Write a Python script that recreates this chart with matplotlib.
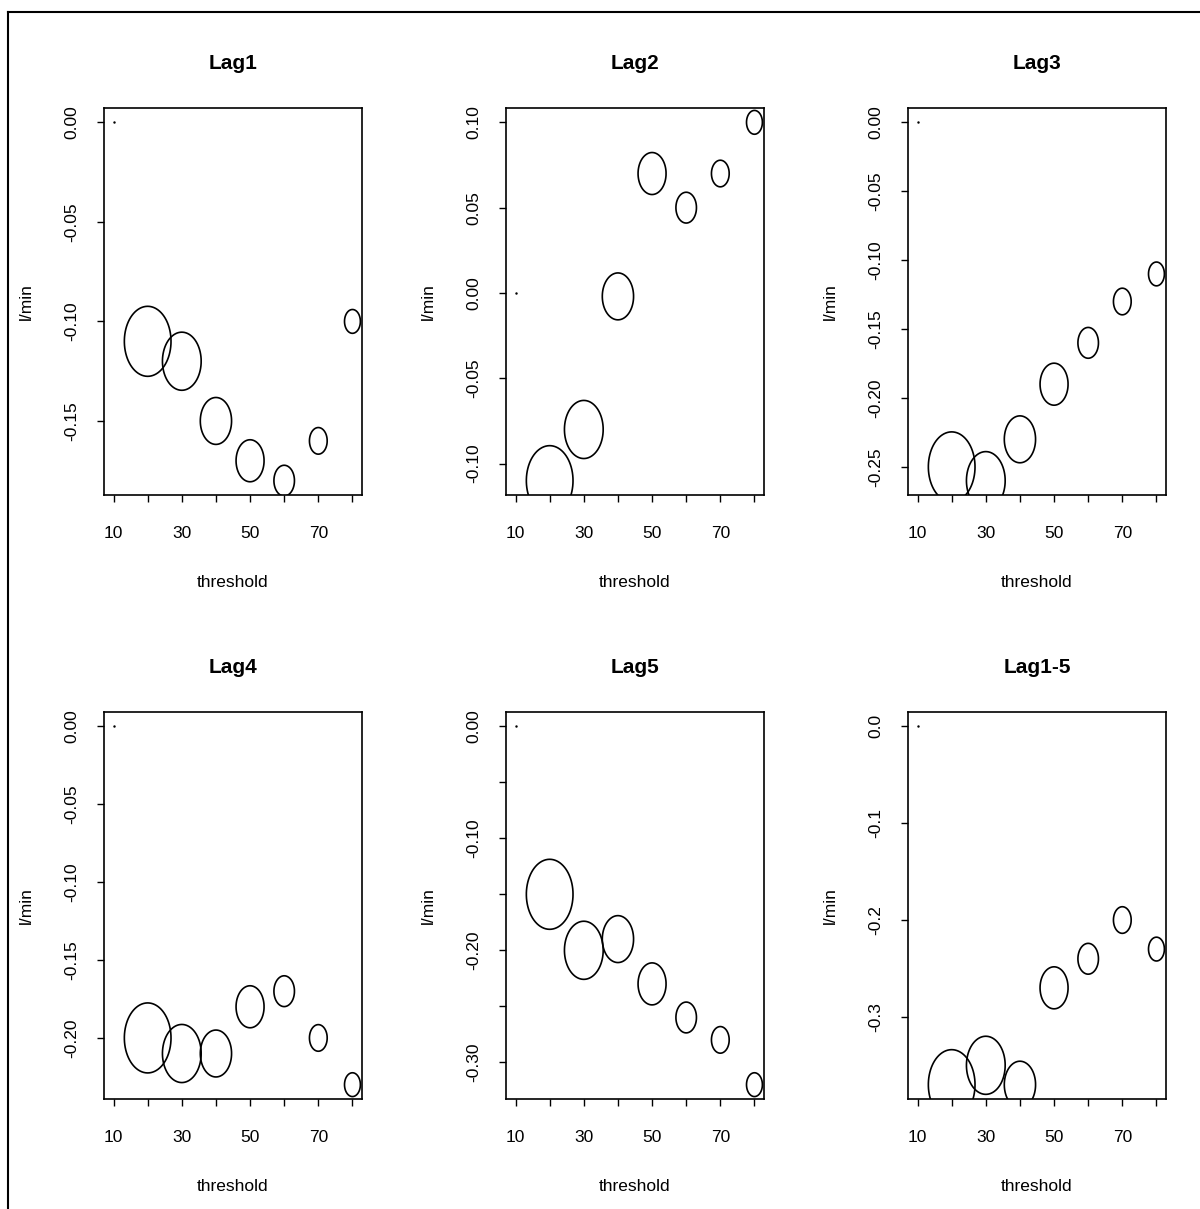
import numpy as np
import matplotlib
matplotlib.use("Agg")
import matplotlib.pyplot as plt
from matplotlib.path import Path
from matplotlib.lines import Line2D

plt.rcParams['font.family'] = ['Liberation Sans', 'DejaVu Sans']

# data
threshold = [10, 20, 30, 40, 50, 60, 70, 80]
weight = [0.0, 1.0, 0.83, 0.67, 0.6, 0.44, 0.38, 0.34]   # relative circle size

titles = ["Lag1", "Lag2", "Lag3", "Lag4", "Lag5", "Lag1-5"]
lag1 = [0.0, -0.11, -0.12, -0.15, -0.17, -0.18, -0.16, -0.10]
lag2 = [0.0, -0.11, -0.08, -0.002, 0.07, 0.05, 0.07, 0.10]
lag3 = [0.0, -0.25, -0.26, -0.23, -0.19, -0.16, -0.13, -0.11]
lag4 = [0.0, -0.20, -0.21, -0.21, -0.18, -0.17, -0.20, -0.23]
lag5 = [0.0, -0.15, -0.20, -0.19, -0.23, -0.26, -0.28, -0.32]
lag15 = [0.0, -0.37, -0.35, -0.37, -0.27, -0.24, -0.20, -0.23]
series = [lag1, lag2, lag3, lag4, lag5, lag15]

ytick_sets = [
    [0.0, -0.05, -0.10, -0.15],
    [0.10, 0.05, 0.0, -0.05, -0.10],
    [0.0, -0.05, -0.10, -0.15, -0.20, -0.25],
    [0.0, -0.05, -0.10, -0.15, -0.20],
    [0.0, -0.05, -0.10, -0.15, -0.20, -0.25, -0.30],
    [0.0, -0.1, -0.2, -0.3],
]
ytick_labels = [
    ["0.00", "-0.05", "-0.10", "-0.15"],
    ["0.10", "0.05", "0.00", "-0.05", "-0.10"],
    ["0.00", "-0.05", "-0.10", "-0.15", "-0.20", "-0.25"],
    ["0.00", "-0.05", "-0.10", "-0.15", "-0.20"],
    ["0.00", "", "-0.10", "", "-0.20", "", "-0.30"],
    ["0.0", "-0.1", "-0.2", "-0.3"],
]

# ellipse marker (the source image is stretched vertically)
t = np.linspace(0, 2 * np.pi, 80)
ell = Path(np.column_stack([np.cos(t) / 1.5, np.sin(t)]))

W, H = 1200, 1209
fig = plt.figure(figsize=(W / 100, H / 100), dpi=100)
lefts = [104, 506, 908]
tops = [108, 712]
bw, bh = 258, 387

for i in range(6):
    r, c = divmod(i, 3)
    ax = fig.add_axes([lefts[c] / W, 1 - (tops[r] + bh) / H, bw / W, bh / H])
    y = np.array(series[i])
    x = np.array(threshold)
    w = np.array(weight)
    big = w > 0
    ax.scatter(x[big], y[big], s=(w[big] * 70 * 0.72) ** 2, marker=ell,
               facecolors='none', edgecolors='black', linewidths=1.2)
    ax.plot(x[~big], y[~big], 'k.', markersize=1.5)

    ymin, ymax = y.min(), y.max()
    ext = 0.04 * (ymax - ymin)
    ax.set_ylim(ymin - ext, ymax + ext)
    ax.set_xlim(10 - 0.04 * 70, 80 + 0.04 * 70)

    ax.set_xticks(threshold)
    ax.set_xticklabels(["10", "", "30", "", "50", "", "70", ""])
    ax.set_yticks(ytick_sets[i])
    ax.set_yticklabels(ytick_labels[i])
    ax.tick_params(axis='both', direction='out', length=5, width=1,
                   labelsize=12.5)
    ax.tick_params(axis='x', pad=17)
    ax.tick_params(axis='y', labelrotation=90, pad=13)
    for lab in ax.get_yticklabels():
        lab.set_va('center')
    for sp in ax.spines.values():
        sp.set_linewidth(1.2)

    ax.set_title(titles[i], fontsize=15, fontweight='bold', pad=28)
    ax.set_xlabel("threshold", fontsize=12.5, labelpad=25)
    ax.set_ylabel("l/min", fontsize=12.5, labelpad=22)

# screenshot frame
fig.add_artist(Line2D([8 / W, 8 / W], [0, 1 - 12 / H], color='black', lw=1.5,
                      transform=fig.transFigure))
fig.add_artist(Line2D([8 / W, 1], [1 - 12 / H, 1 - 12 / H], color='black',
                      lw=1.5, transform=fig.transFigure))

plt.savefig("out.png", dpi=100)
